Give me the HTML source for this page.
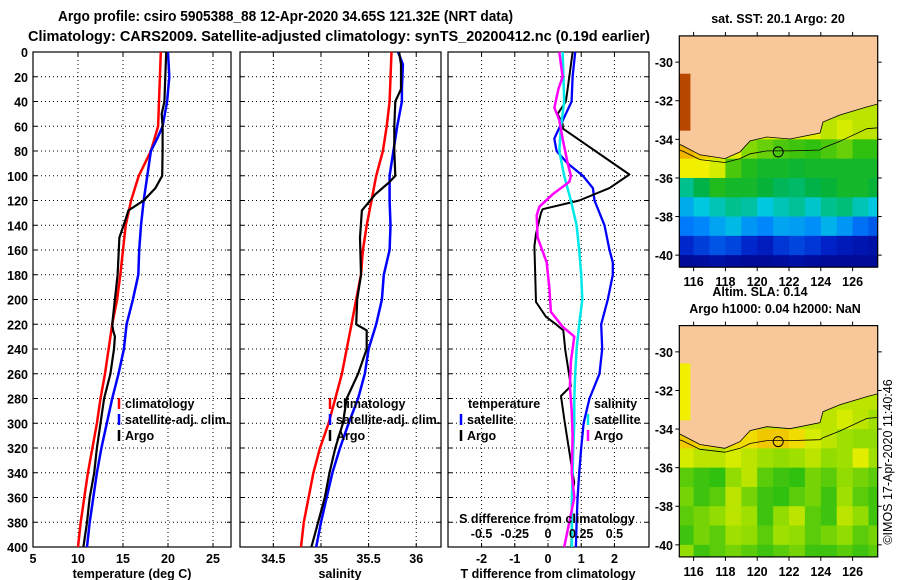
<!DOCTYPE html>
<html><head><meta charset="utf-8"><style>
html,body{margin:0;padding:0;background:#fff}
svg{display:block;font-family:"Liberation Sans",Arial,sans-serif}
</style></head><body>
<svg id="fig" width="900" height="580" viewBox="0 0 900 580" xmlns="http://www.w3.org/2000/svg">
<rect width="900" height="580" fill="#fff"/>
<text x="58" y="21" font-size="14.5" font-weight="bold" textLength="455" lengthAdjust="spacingAndGlyphs">Argo profile: csiro 5905388_88 12-Apr-2020 34.65S 121.32E (NRT data)</text>
<text x="28" y="41" font-size="14.5" font-weight="bold" textLength="622" lengthAdjust="spacingAndGlyphs">Climatology: CARS2009. Satellite-adjusted climatology: synTS_20200412.nc (0.19d earlier)</text>
<g id="plots"></g>
<g id="maps"></g>
<text transform="translate(892,462) rotate(-90)" text-anchor="middle" font-size="12.5">©IMOS 17-Apr-2020 11:40:46</text>
</svg>
<script>
// ---------- profile data ----------
const depthTicks = [0,20,40,60,80,100,120,140,160,180,200,220,240,260,280,300,320,340,360,380,400];
const tempTicks = [5,10,15,20,25];
const salTicks = [34.5,35,35.5,36];
const tdiffTicks = [-2,-1,0,1,2];
const sdiffTicks = [-0.5,-0.25,0,0.25,0.5];

const tClimDepth = [0,60,80,100,120,140,160,180,200,220,240,260,280,300,320,340,360,380,400];
const tClimVal   = [19.2,18.9,18.1,16.75,15.9,15.3,15.0,14.7,14.35,13.8,13.4,13.0,12.5,12.1,11.6,11.1,10.7,10.3,10.0];
const tSatDepth = [0,20,40,60,70,80,100,120,140,160,180,200,220,240,260,280,300,320,340,360,380,400];
const tSatVal   = [20.0,20.15,19.9,19.4,18.8,18.1,17.7,17.3,17.0,16.8,16.7,16.1,15.4,15.1,14.5,13.8,13.2,12.6,12.1,11.7,11.3,11.0];
const tArgoDepth = [0,40,50,60,80,100,110,120,128,135,150,180,200,220,225,230,240,260,280,300,320,340,360,380,400];
const tArgoVal   = [19.8,19.6,19.3,19.4,19.4,19.35,18.6,17.3,15.6,15.3,14.6,14.4,14.1,13.8,13.9,14.1,14.0,13.6,12.9,12.5,12.1,11.8,11.3,11.0,10.6];

const sClimDepth = [0,40,60,80,100,120,140,160,180,200,220,240,260,280,300,320,340,360,380,400];
const sClimVal   = [35.74,35.72,35.69,35.65,35.58,35.53,35.48,35.44,35.42,35.37,35.32,35.27,35.22,35.15,35.08,34.99,34.92,34.87,34.82,34.79];
const sSatDepth = [0,10,30,40,60,80,100,120,140,160,180,200,220,240,260,280,300,320,340,360,380,400];
const sSatVal   = [35.81,35.86,35.85,35.85,35.8,35.76,35.72,35.72,35.73,35.72,35.66,35.64,35.58,35.5,35.46,35.39,35.29,35.2,35.12,35.06,35.0,34.95];
const sArgoDepth = [0,10,30,40,60,80,100,105,115,128,150,180,200,220,225,240,260,280,300,320,340,360,380,400];
const sArgoVal   = [35.82,35.84,35.84,35.78,35.77,35.77,35.78,35.72,35.57,35.43,35.41,35.42,35.38,35.37,35.48,35.48,35.39,35.27,35.23,35.15,35.09,35.04,34.97,34.9];

const dTSatDepth = [0,20,40,60,70,80,90,100,110,120,140,160,170,180,200,220,240,260,280,300,320,340,360,380,400];
const dTSatVal   = [0.82,0.74,0.71,0.36,0.19,0.26,0.59,1.05,1.35,1.4,1.7,1.85,1.95,1.95,1.8,1.6,1.63,1.55,1.25,1.07,1.0,0.94,0.89,0.86,0.84];
const dTArgoDepth = [0,20,40,50,58,62,99,110,120,127,130,147,157,202,214,220,225,241,270,278,297,314,348,359,380,400];
const dTArgoVal   = [0.74,0.64,0.54,0.29,0.44,0.45,2.45,1.85,0.94,-0.16,-0.21,-0.36,-0.41,-0.36,-0.06,0.24,0.46,0.52,0.69,0.39,0.49,0.59,0.79,0.72,0.72,0.7];
const dSSatDepth = [0,40,60,80,100,120,140,160,180,200,220,240,260,280,300,320,340,360,380,400];
const dSSatVal   = [0.11,0.122,0.098,0.085,0.122,0.172,0.215,0.235,0.25,0.258,0.235,0.215,0.205,0.198,0.198,0.19,0.185,0.18,0.18,0.18];
const dSArgoDepth = [0,20,30,45,55,70,90,100,105,115,125,132,150,170,190,210,222,230,250,270,290,310,340,360,380,400];
const dSArgoVal   = [0.085,0.11,0.078,0.048,0.085,0.11,0.148,0.172,0.16,0.035,-0.065,-0.085,-0.078,-0.01,0.01,0.022,0.11,0.198,0.172,0.165,0.178,0.185,0.178,0.198,0.16,0.122];

// ---------- map data ----------
const mapLons = [115,116,117,118,119,120,121,122,123,124,125,126,127];
const mapLatTops = [-32,-33,-34,-35,-36,-37,-38,-39,-40];
const sstGrid = [
 [0.95,0.75,0.72,0.72,0.72,0.72,0.72,0.72,0.72,0.72,0.72,0.72,0.72],
 [0.9,0.8,0.75,0.75,0.75,0.75,0.75,0.75,0.75,0.72,0.74,0.72,0.72],
 [0.82,0.8,0.78,0.75,0.68,0.66,0.64,0.63,0.62,0.64,0.66,0.62,0.62],
 [0.76,0.76,0.74,0.64,0.6,0.58,0.58,0.57,0.58,0.58,0.58,0.58,0.58],
 [0.46,0.54,0.6,0.58,0.58,0.56,0.52,0.5,0.54,0.56,0.58,0.58,0.56],
 [0.34,0.38,0.42,0.46,0.44,0.38,0.42,0.45,0.4,0.46,0.48,0.42,0.38],
 [0.27,0.29,0.33,0.36,0.31,0.29,0.33,0.32,0.3,0.35,0.31,0.26,0.23],
 [0.16,0.19,0.22,0.2,0.16,0.13,0.18,0.2,0.18,0.15,0.12,0.1,0.08],
 [0.05,0.06,0.08,0.06,0.05,0.05,0.06,0.08,0.06,0.05,0.05,0.05,0.05]];
const slaGrid = [
 [0.76,0.72,0.72,0.72,0.72,0.72,0.72,0.72,0.72,0.72,0.72,0.72,0.72],
 [0.78,0.72,0.72,0.72,0.72,0.72,0.72,0.72,0.72,0.72,0.74,0.72,0.7],
 [0.8,0.79,0.79,0.78,0.78,0.8,0.8,0.78,0.74,0.72,0.7,0.69,0.69],
 [0.74,0.72,0.72,0.74,0.72,0.7,0.69,0.7,0.72,0.69,0.7,0.75,0.7],
 [0.65,0.63,0.62,0.69,0.72,0.65,0.63,0.62,0.67,0.65,0.69,0.67,0.65],
 [0.67,0.63,0.65,0.72,0.67,0.63,0.62,0.65,0.67,0.63,0.7,0.65,0.63],
 [0.65,0.67,0.69,0.72,0.7,0.63,0.69,0.72,0.65,0.63,0.72,0.69,0.63],
 [0.63,0.67,0.65,0.7,0.69,0.65,0.7,0.69,0.65,0.67,0.69,0.65,0.67],
 [0.69,0.63,0.65,0.67,0.65,0.63,0.65,0.67,0.63,0.63,0.65,0.63,0.65]];
const coastLon = [115.1,115.33,116.4,117.97,118.92,119.55,120.6,122.06,123.95,124.14,125.2,126.9,127.6];
const coastLat = [-34.25,-34.34,-34.8,-35.0,-34.65,-34.08,-33.88,-33.98,-33.67,-33.1,-32.74,-32.32,-32.17];
const isoLat   = [-34.55,-34.62,-35.05,-35.2,-35.0,-34.75,-34.6,-34.6,-34.55,-34.45,-34.1,-33.45,-33.4];
const argoLon = 121.32, argoLat = -34.65;
const mapLonTicks = [116,118,120,122,124,126];
const mapLatTicks = [-30,-32,-34,-36,-38,-40];

const NS = "http://www.w3.org/2000/svg";
function mk(tag, attrs, parent){ const e=document.createElementNS(NS,tag); for(const k in attrs) e.setAttribute(k,attrs[k]); parent.appendChild(e); return e; }
const plots = document.getElementById('plots');
const yTop=52, yBot=547;
const yScale = d => yTop + (d/400)*(yBot-yTop);

function panel(name, x0, x1, min, max){
  const g = mk('g',{},plots);
  
  
  return {g, x0, x1, sx: v => x0 + (v-min)/(max-min)*(x1-x0)};
}
function grid(p, xt){
  depthTicks.forEach(d=>{
    const y=yScale(d);
    if(d>0&&d<400){ const l=mk('line',{x1:p.x0,x2:p.x1,y1:y,y2:y,stroke:'#000','stroke-width':1,'stroke-dasharray':'1,3'},p.g);
        }
    mk('line',{x1:p.x0,x2:p.x0+4,y1:y,y2:y,stroke:'#000'},p.g);
    mk('line',{x1:p.x1-4,x2:p.x1,y1:y,y2:y,stroke:'#000'},p.g);
  });
  xt.forEach(v=>{
    const x=p.sx(v);
    const l=mk('line',{x1:x,x2:x,y1:yTop,y2:yBot,stroke:'#000','stroke-dasharray':'1,3'},p.g);
     
    mk('line',{x1:x,x2:x,y1:yTop,y2:yTop+4,stroke:'#000'},p.g);
    mk('line',{x1:x,x2:x,y1:yBot-4,y2:yBot,stroke:'#000'},p.g);
  });
  const r=mk('rect',{x:p.x0,y:yTop,width:p.x1-p.x0,height:yBot-yTop,fill:'none',stroke:'#000','stroke-width':1.2},p.g);
   
}
function xLabels(p, xt, fmt, y){
  xt.forEach(v=>{ const t=mk('text',{x:p.sx(v),y:y,'text-anchor':'middle','font-size':12.5,'font-weight':'bold'},p.g); t.textContent=fmt(v);
      });
}
function series(p, depths, vals, color, w, name, scale){
  const pts = depths.map((d,i)=>p.sx(vals[i]*(scale||1)).toFixed(1)+','+yScale(d).toFixed(1)).join(' ');
  const l=mk('polyline',{points:pts,fill:'none',stroke:color,'stroke-width':w,'stroke-linejoin':'round'},p.g);
  
  
}
function legendEntry(p, x, y, color, label, name){
  mk('line',{x1:x,x2:x,y1:y-10,y2:y+1,stroke:color,'stroke-width':2.5},p.g);
  const t=mk('text',{x:x+6,y:y,'font-size':12.5,'font-weight':'bold'},p.g); t.textContent=label;
  
  
}

// Panel 1 temperature
const p1 = panel('temperature-panel',33,231,5,27.0);
grid(p1,tempTicks);
depthTicks.forEach(d=>{ const t=mk('text',{x:28,y:yScale(d)+5,'text-anchor':'end','font-size':12.5,'font-weight':'bold'},p1.g); t.textContent=d;
    });
series(p1,tClimDepth,tClimVal,'#ff0000',2.5,'temp-climatology-line');
series(p1,tSatDepth,tSatVal,'#0000ff',2.5,'temp-satellite-line');
series(p1,tArgoDepth,tArgoVal,'#000',2.2,'temp-argo-line');
xLabels(p1,tempTicks,v=>v,563);
{const t=mk('text',{x:132,y:578,'text-anchor':'middle','font-size':12.5,'font-weight':'bold'},p1.g); t.textContent='temperature (deg C)';  }
legendEntry(p1,119,408,'#ff0000','climatology','legend-climatology');
legendEntry(p1,119,424,'#0000ff','satellite-adj. clim.','legend-satellite');
legendEntry(p1,119,440,'#000','Argo','legend-argo');

// Panel 2 salinity
const p2 = panel('salinity-panel',240,441,34.15,36.26);
grid(p2,salTicks);
series(p2,sClimDepth,sClimVal,'#ff0000',2.5,'sal-climatology-line');
series(p2,sSatDepth,sSatVal,'#0000ff',2.5,'sal-satellite-line');
series(p2,sArgoDepth,sArgoVal,'#000',2.2,'sal-argo-line');
xLabels(p2,salTicks,v=>v,563);
{const t=mk('text',{x:340,y:578,'text-anchor':'middle','font-size':12.5,'font-weight':'bold'},p2.g); t.textContent='salinity';  }
legendEntry(p2,330,408,'#ff0000','climatology','legend-climatology');
legendEntry(p2,330,424,'#0000ff','satellite-adj. clim.','legend-satellite');
legendEntry(p2,330,440,'#000','Argo','legend-argo');

// Panel 3 differences
const p3 = panel('difference-panel',448,649,-3.01,3.04);
grid(p3,tdiffTicks);
series(p3,dTSatDepth,dTSatVal,'#0000ff',2.3,'tdiff-satellite-line');
series(p3,dTArgoDepth,dTArgoVal,'#000',2,'tdiff-argo-line');
series(p3,dSSatDepth,dSSatVal,'#00e8e8',2.5,'sdiff-satellite-line',4);
series(p3,dSArgoDepth,dSArgoVal,'#ff00ff',2.5,'sdiff-argo-line',4);
xLabels(p3,tdiffTicks,v=>v,563);
{const t=mk('text',{x:548,y:578,'text-anchor':'middle','font-size':12.5,'font-weight':'bold'},p3.g); t.textContent='T difference from climatology';  }
{const t=mk('text',{x:547,y:523,'text-anchor':'middle','font-size':12.5,'font-weight':'bold'},p3.g); t.textContent='S difference from climatology';  }
sdiffTicks.forEach(v=>{ const t=mk('text',{x:p3.sx(v*4),y:538,'text-anchor':'middle','font-size':12.5,'font-weight':'bold'},p3.g); t.textContent=v;
    });
{const t=mk('text',{x:468,y:408,'font-size':12.5,'font-weight':'bold'},p3.g); t.textContent='temperature';  }
{const t=mk('text',{x:594,y:408,'font-size':12.5,'font-weight':'bold'},p3.g); t.textContent='salinity';  }
legendEntry(p3,461,424,'#0000ff','satellite','legend-t-satellite');
legendEntry(p3,461,440,'#000','Argo','legend-t-argo');
legendEntry(p3,588,424,'#00e8e8','satellite','legend-s-satellite');
legendEntry(p3,588,440,'#ff00ff','Argo','legend-s-argo');

// ---------- maps ----------
const stops=[[0,[0,0,128]],[0.15,[0,32,200]],[0.28,[0,128,255]],[0.38,[0,200,224]],[0.48,[0,190,120]],[0.55,[0,176,64]],[0.62,[48,192,16]],[0.7,[160,224,0]],[0.76,[240,240,0]],[0.84,[240,160,0]],[0.92,[208,96,0]],[1,[144,32,0]]];
function cmap(v){ for(let i=1;i<stops.length;i++){ if(v<=stops[i][0]){ const a=stops[i-1],b=stops[i],t=(v-a[0])/(b[0]-a[0]);
  return 'rgb('+a[1].map((c,k)=>Math.round(c+(b[1][k]-c)*t)).join(',')+')'; } } return 'rgb(144,32,0)'; }
const maps=document.getElementById('maps');
const mX0=679.3, mX1=877.7, lonMin=115.1, pxLon=15.9, latMax=-28.64, pxLat=19.3;
function drawMap(name, top, gridVals){
  const g=mk('g',{},maps);
  
  
  const h=231.3;
  const px = lon => mX0+(lon-lonMin)*pxLon;
  const py = lat => top+(latMax-lat)*pxLat;
  const cid='clip-'+name;
  const cp=mk('clipPath',{id:cid},g); mk('rect',{x:mX0,y:top,width:mX1-mX0,height:h},cp);
  const inner=mk('g',{'clip-path':'url(#'+cid+')'},g);
  mk('rect',{x:mX0,y:top,width:mX1-mX0,height:h,fill:'#f8c89a'},inner);
  gridVals.forEach((row,r)=>row.forEach((v,c)=>{
    const x=px(mapLons[c]), y=py(mapLatTops[r]);
    const cell=mk('rect',{x:x,y:y,width:pxLon+0.5,height:pxLat+0.5,fill:cmap(v)},inner);
    
    
  }));
  let d='M'+px(115.1)+','+py(-28.6)+' L'+px(128)+','+py(-28.6)+' L'+px(128)+','+py(coastLat[coastLat.length-1]);
  for(let i=coastLon.length-1;i>=0;i--) d+=' L'+px(coastLon[i]).toFixed(1)+','+py(coastLat[i]).toFixed(1);
  d+=' L'+px(115.1)+','+py(-28.6)+' Z';
  const land=mk('path',{d:d,fill:'#f8c89a'},inner);
  
  
  const stripV = gridVals[0][0];
  mk('rect',{x:px(115.1),y:py(-30.6),width:px(115.8)-px(115.1),height:py(-33.55)-py(-30.6),fill:cmap(stripV)},inner);
  const cl=mk('polyline',{points:coastLon.map((l,i)=>px(l).toFixed(1)+','+py(coastLat[i]).toFixed(1)).join(' '),fill:'none',stroke:'#000','stroke-width':0.8},inner);
   
  const iso=mk('polyline',{points:coastLon.map((l,i)=>px(l).toFixed(1)+','+py(isoLat[i]).toFixed(1)).join(' '),fill:'none',stroke:'#000','stroke-width':0.8},inner);
   
  const ac=mk('circle',{cx:px(argoLon),cy:py(argoLat),r:5,fill:'none',stroke:'#000','stroke-width':1},inner);
   
  mk('rect',{x:mX0,y:top,width:mX1-mX0,height:h,fill:'none',stroke:'#000','stroke-width':1.2},g);
  mapLatTicks.forEach(lat=>{ const y=py(lat);
    mk('line',{x1:mX0-4,x2:mX0,y1:y,y2:y,stroke:'#000'},g); mk('line',{x1:mX1,x2:mX1+4,y1:y,y2:y,stroke:'#000'},g);
    const t=mk('text',{x:673,y:y+5,'text-anchor':'end','font-size':12.5,'font-weight':'bold'},g); t.textContent=lat;
      });
  mapLonTicks.forEach(lon=>{ const x=px(lon);
    mk('line',{x1:x,x2:x,y1:top-4,y2:top,stroke:'#000'},g); mk('line',{x1:x,x2:x,y1:top+h,y2:top+h+4,stroke:'#000'},g);
    const t=mk('text',{x:x,y:top+h+19,'text-anchor':'middle','font-size':12.5,'font-weight':'bold'},g); t.textContent=lon;
      });
}
drawMap('sst-map',35.9,sstGrid);
drawMap('sla-map',325.6,slaGrid);
function mapTitle(txt,x,y,name){ const t=mk('text',{x:x,y:y,'text-anchor':'middle','font-size':12.5,'font-weight':'bold'},maps); t.textContent=txt;
    }
mapTitle('sat. SST: 20.1 Argo: 20',778,23,'sst-map-title');
mapTitle('Altim. SLA: 0.14',760,296,'sla-map-title');
mapTitle('Argo h1000: 0.04 h2000: NaN',775,313,'sla-map-subtitle');
</script>
</body></html>
